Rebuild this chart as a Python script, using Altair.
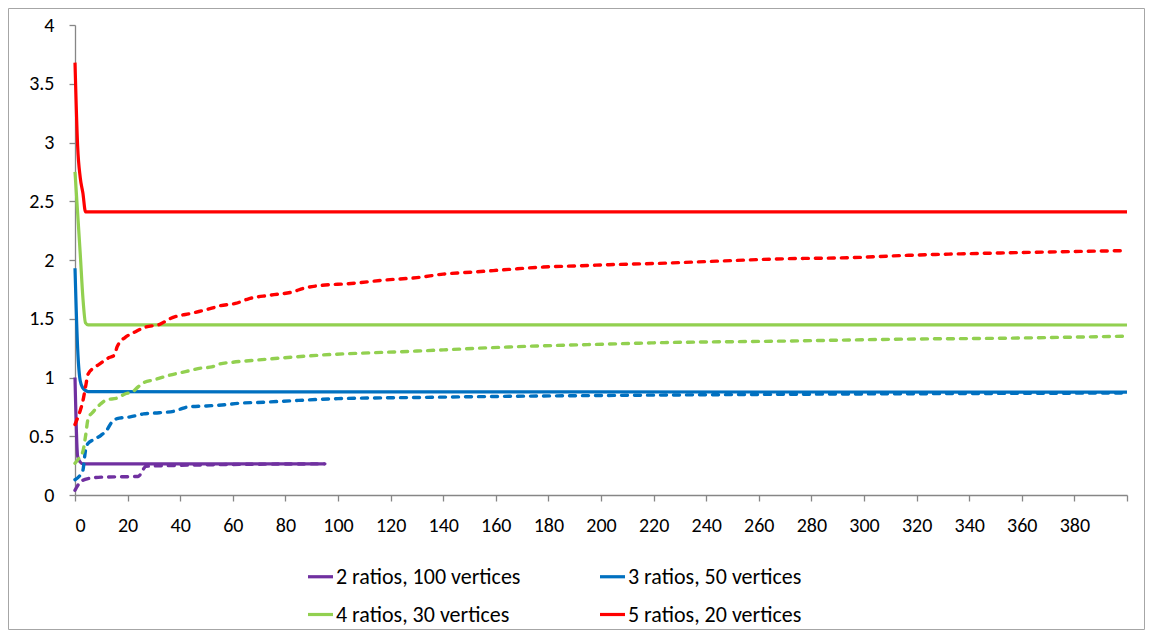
import altair as alt
import pandas as pd

# ---------------- data ----------------
series_names = ["2 ratios, 100 vertices", "3 ratios, 50 vertices",
                "4 ratios, 30 vertices", "5 ratios, 20 vertices"]
series_colors = ["#7030A0", "#0070C0", "#92D050", "#FF0000"]

# 2 ratios, 100 vertices
p_up_x = [0, 1, 2, 3, 95]
p_up_y = [1.00, 0.33, 0.28, 0.265, 0.265]
p_lo_x = [0, 1, 2, 3, 5, 10, 24, 25, 26, 27, 35, 60, 95]
p_lo_y = [0.04, 0.08, 0.11, 0.125, 0.14, 0.152, 0.158, 0.18, 0.22, 0.245, 0.25, 0.26, 0.265]

# 3 ratios, 50 vertices
b_up_x = [0, 1, 2, 3, 4, 5, 400]
b_up_y = [1.93, 1.25, 0.97, 0.91, 0.89, 0.879, 0.876]
b_lo_x = [0, 2, 3, 4, 5, 7, 10, 12, 14, 16, 21, 26, 32, 38, 40, 43, 50, 57, 62,
          72, 85, 100, 130, 165, 220, 270, 320, 400]
b_lo_y = [0.13, 0.17, 0.21, 0.38, 0.44, 0.47, 0.51, 0.55, 0.62, 0.65, 0.665, 0.69,
          0.70, 0.715, 0.73, 0.75, 0.758, 0.768, 0.78, 0.79, 0.805, 0.82, 0.83,
          0.84, 0.85, 0.857, 0.862, 0.868]

# 4 ratios, 30 vertices
g_up_x = [0, 1, 2, 3, 4, 5, 400]
g_up_y = [2.75, 2.40, 2.05, 1.68, 1.465, 1.448, 1.447]
g_lo_x = [0, 2, 3, 4, 5, 7, 10, 12, 16, 19, 22, 24, 26, 30, 36, 42, 48, 52, 55,
          60, 70, 93, 130, 165, 203, 220, 270, 317, 352, 400]
g_lo_y = [0.27, 0.33, 0.37, 0.50, 0.65, 0.71, 0.78, 0.81, 0.825, 0.86, 0.88, 0.92,
          0.955, 0.98, 1.02, 1.05, 1.08, 1.09, 1.115, 1.13, 1.15, 1.19, 1.225,
          1.26, 1.285, 1.295, 1.31, 1.327, 1.334, 1.352]

# 5 ratios, 20 vertices
r_up_x = [0, 1, 2, 3, 4, 400]
r_up_y = [3.68, 2.97, 2.70, 2.57, 2.41, 2.41]
r_lo_x = [0, 2, 3, 4, 5, 7, 9, 13, 15, 16, 17, 19, 23, 27, 32, 36, 45, 52, 55, 61,
          66, 74, 83, 87, 92, 105, 118, 130, 140, 153, 165, 178, 191, 203, 220,
          244, 269, 295, 317, 352, 400]
r_lo_y = [0.60, 0.72, 0.80, 0.92, 1.03, 1.08, 1.11, 1.17, 1.19, 1.26, 1.30, 1.34,
          1.39, 1.43, 1.45, 1.50, 1.55, 1.59, 1.61, 1.63, 1.67, 1.70, 1.73, 1.76,
          1.78, 1.80, 1.83, 1.85, 1.88, 1.90, 1.92, 1.94, 1.95, 1.96, 1.97, 1.99,
          2.01, 2.02, 2.04, 2.06, 2.08]

x_ticks = list(range(0, 401, 20))
y_ticks = [0, 0.5, 1, 1.5, 2, 2.5, 3, 3.5, 4]

# ---------------- build tables ----------------
def rows(name, xs, ys):
    return [{"series": name, "x": a, "y": b} for a, b in zip(xs, ys)]

upper = pd.DataFrame(
    rows(series_names[0], p_up_x, p_up_y) + rows(series_names[1], b_up_x, b_up_y)
    + rows(series_names[2], g_up_x, g_up_y) + rows(series_names[3], r_up_x, r_up_y))
lower = pd.DataFrame(
    rows(series_names[0], p_lo_x, p_lo_y) + rows(series_names[1], b_lo_x, b_lo_y)
    + rows(series_names[2], g_lo_x, g_lo_y) + rows(series_names[3], r_lo_x, r_lo_y))

FONT = "Carlito, Calibri, Lato, sans-serif"
AX = "#868686"

xenc = alt.X("x:Q", scale=alt.Scale(domain=[0, 400], nice=False, zero=False),
             axis=alt.Axis(values=x_ticks, title=None, grid=False,
                           labelExpr="datum.value == 400 ? '' : datum.label",
                           labelPadding=14))
yenc = alt.Y("y:Q", scale=alt.Scale(domain=[0, 4], nice=False),
             axis=alt.Axis(values=y_ticks, title=None, grid=False, format="~g",
                           labelPadding=15))
color_scale = alt.Scale(domain=series_names, range=series_colors)

solid = alt.Chart(upper).mark_line(strokeWidth=3.2, interpolate="monotone").encode(
    x=xenc, y=yenc,
    color=alt.Color("series:N", scale=color_scale,
                    legend=alt.Legend(title=None, orient="none", legendX=231,
                                      legendY=537, columns=2, direction="horizontal",
                                      symbolType="stroke",
                                      symbolSize=625, symbolStrokeWidth=3.2,
                                      labelFont=FONT, labelFontSize=22, labelLimit=400,
                                      labelColor="#000000", columnPadding=72,
                                      rowPadding=12, labelOffset=1, padding=0)),
)

dashed = alt.Chart(lower).mark_line(strokeWidth=3.4, interpolate="monotone",
                                    strokeDash=[6, 7], strokeCap="round").encode(
    x=xenc, y=yenc,
    color=alt.Color("series:N", scale=color_scale, legend=None),
)

border = alt.Chart(alt.Data(values=[{}])).mark_rect(
    fill=None, stroke="#A6A6A6", strokeWidth=1).encode(
    x=alt.value(-66.5), x2=alt.value(1069.5),
    y=alt.value(-16.5), y2=alt.value(604.5))

chart = alt.layer(border, solid, dashed).properties(
    width=1052, height=470,
    background="#FFFFFF",
    autosize=alt.AutoSizeParams(type="none"),
    padding={"left": 67, "top": 17, "right": 18, "bottom": 135},
).configure_view(stroke=None).configure_axis(
    grid=False, domainColor=AX, tickColor=AX, tickSize=6, labelFont=FONT,
    labelFontSize=20, labelColor="#000000", domainWidth=1.3, tickWidth=1.3,
)

chart.save("out.html", embed_options={"renderer": "svg", "actions": False})
